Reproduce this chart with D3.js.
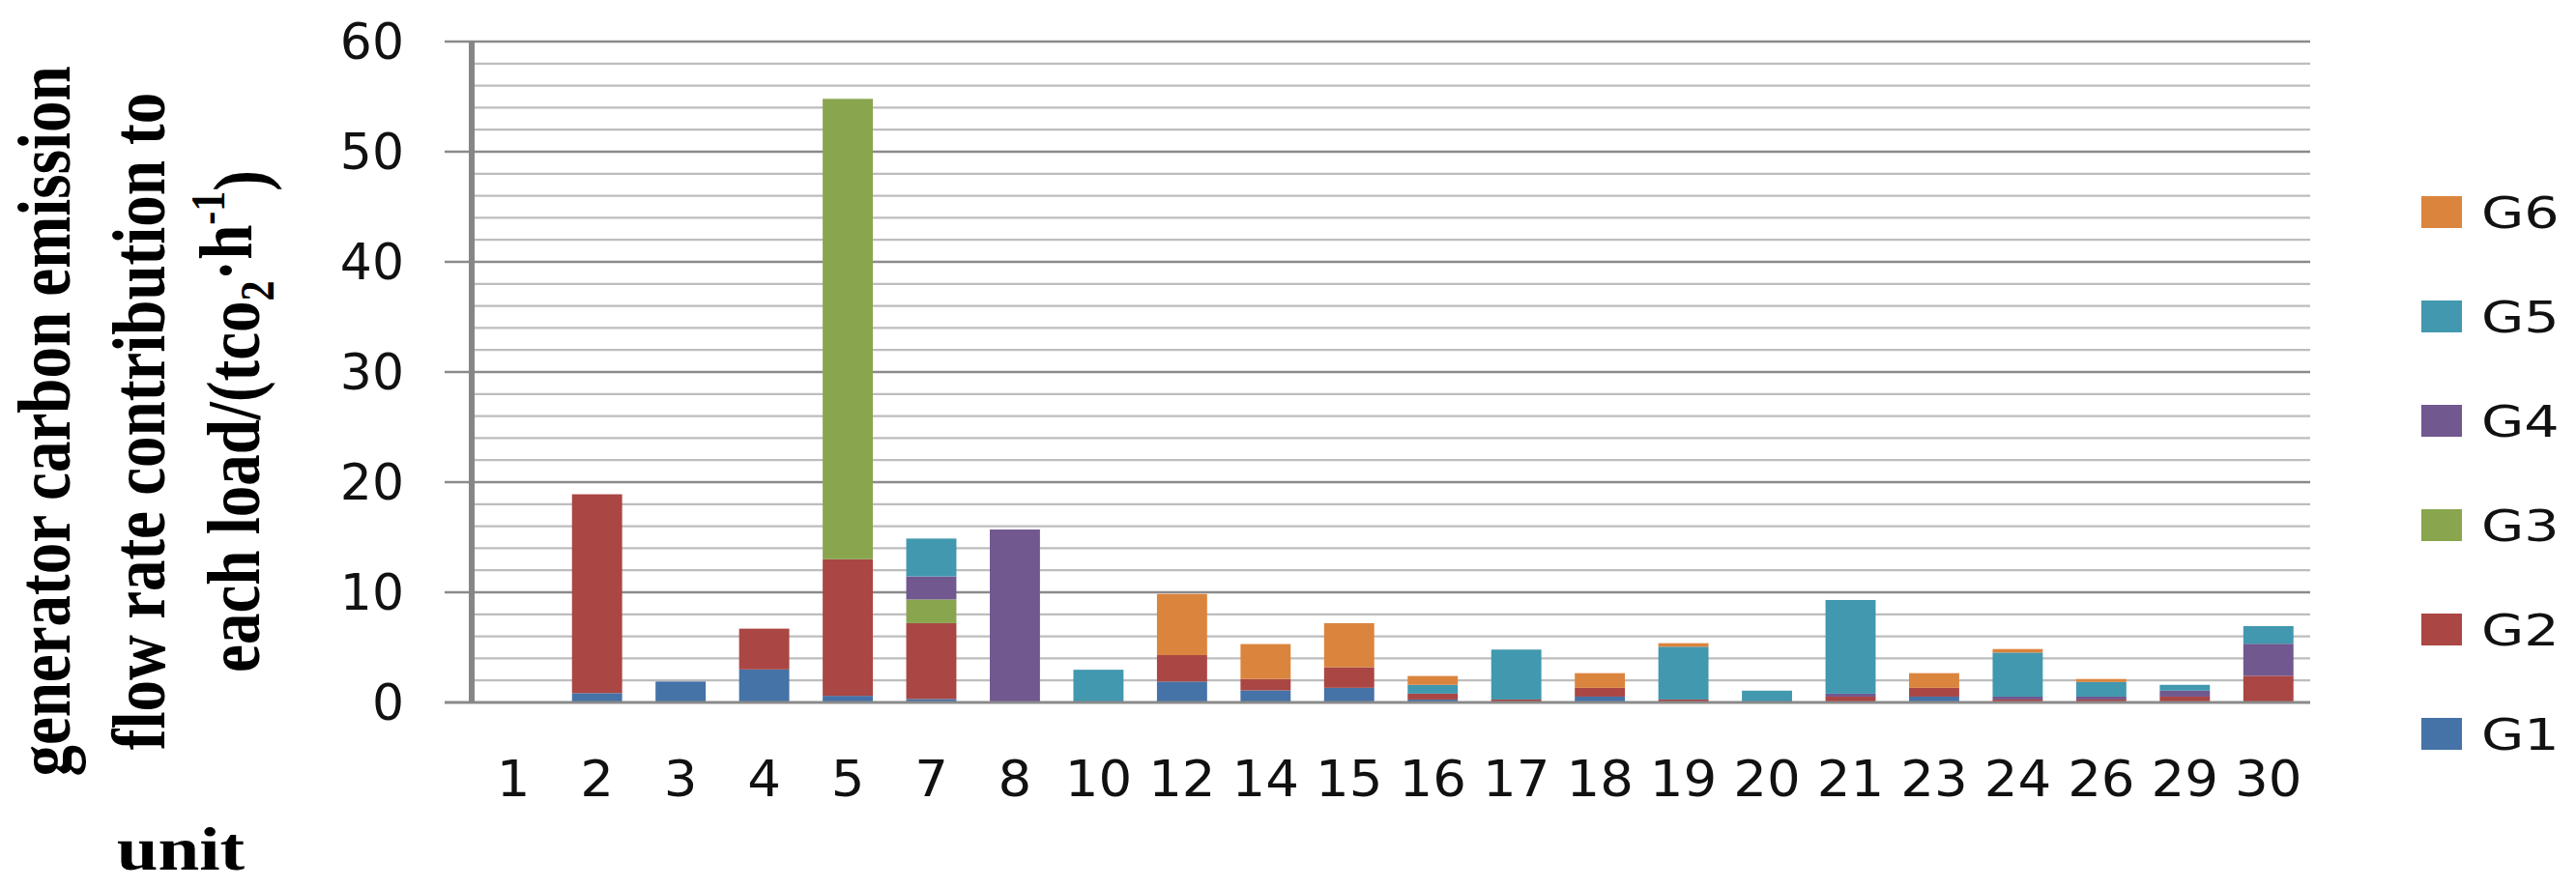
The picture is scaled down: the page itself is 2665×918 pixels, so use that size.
<!DOCTYPE html>
<html>
<head>
<meta charset="utf-8">
<script src="https://cdn.jsdelivr.net/npm/d3@7"></script>
<style>
  body { margin: 0; background: #fff; }
  svg { display: block; }
</style>
</head>
<body>
<svg id="chart" width="2665" height="918"></svg>
<script>
'use strict'

// load buses (x categories)
var units = ["1", "2", "3", "4", "5", "7", "8", "10", "12", "14", "15", "16", "17", "18", "19", "20", "21", "23", "24", "26", "29", "30"];

// contribution of each generator
var g1 = [0, 0.85, 1.9, 3.0, 0.6, 0.32, 0, 0, 1.9, 1.1, 1.33, 0.27, 0, 0.53, 0, 0, 0, 0.53, 0, 0, 0, 0];
var g2 = [0, 18.05, 0, 3.7, 12.4, 6.88, 0, 0, 2.4, 1.03, 1.87, 0.53, 0.27, 0.8, 0.27, 0, 0.53, 0.8, 0.27, 0.27, 0.53, 2.42];
var g3 = [0, 0, 0, 0, 41.8, 2.15, 0, 0, 0, 0, 0, 0, 0, 0, 0, 0, 0, 0, 0, 0, 0, 0];
var g4 = [0, 0, 0, 0, 0, 2.09, 15.7, 0, 0, 0, 0, 0, 0, 0, 0, 0, 0.27, 0, 0.26, 0.26, 0.54, 2.91];
var g5 = [0, 0, 0, 0, 0, 3.44, 0, 2.97, 0, 0, 0, 0.8, 4.53, 0, 4.79, 1.07, 8.5, 0, 4.0, 1.33, 0.53, 1.6];
var g6 = [0, 0, 0, 0, 0, 0, 0, 0, 5.55, 3.17, 4.0, 0.8, 0, 1.33, 0.32, 0, 0, 1.33, 0.32, 0.27, 0, 0];

var seriesNames = ["G1", "G2", "G3", "G4", "G5", "G6"];
var seriesValues = [g1, g2, g3, g4, g5, g6];
var colours = ["#4572a7", "#aa4643", "#89a54e", "#71588f", "#4198af", "#db843d"];

var yTicks = [0, 10, 20, 30, 40, 50, 60];

var svg = d3.select("#chart"),
  margin = {
    top: 43,
    right: 275,
    bottom: 191,
    left: 488
  },
  width = +svg.attr("width") - margin.left - margin.right,
  height = +svg.attr("height") - margin.top - margin.bottom;

var x = d3.scaleBand()
  .domain(units)
  .range([0, width])
  .paddingInner(0.4)
  .paddingOuter(0.2);

var y = d3.scaleLinear()
  .domain([0, 60])
  .range([height, 0]);

// build rows for d3.stack
var rows = units.map(function(u, i) {
  var r = { unit: u };
  seriesNames.forEach(function(s, j) {
    r[s] = seriesValues[j][i];
  });
  return r;
});

var stacked = d3.stack().keys(seriesNames)(rows);

var g = svg.append("g")
  .attr("transform", "translate(" + margin.left + "," + margin.top + ")");

// gridlines: minor every 2, major every 10
var minor = d3.range(2, 60, 2).filter(function(v) { return v % 10 !== 0; });

g.append("g")
  .selectAll("line")
  .data(minor)
  .enter()
  .append("line")
  .attr("x1", 0)
  .attr("x2", width)
  .attr("y1", function(d) { return y(d); })
  .attr("y2", function(d) { return y(d); })
  .attr("stroke", "#bdbdbd")
  .attr("stroke-width", 2.2);

g.append("g")
  .selectAll("line")
  .data(yTicks.slice(1))
  .enter()
  .append("line")
  .attr("x1", -28)
  .attr("x2", width)
  .attr("y1", function(d) { return y(d); })
  .attr("y2", function(d) { return y(d); })
  .attr("stroke", "#8a8a8a")
  .attr("stroke-width", 2.4);

// bars
g.append("g")
  .selectAll("g")
  .data(stacked)
  .enter()
  .append("g")
  .attr("fill", function(d, i) { return colours[i]; })
  .selectAll("rect")
  .data(function(d) { return d; })
  .enter()
  .append("rect")
  .attr("x", function(d) { return x(d.data.unit); })
  .attr("width", x.bandwidth())
  .attr("y", function(d) { return y(d[1]); })
  .attr("height", function(d) { return y(d[0]) - y(d[1]); });

// x axis line
g.append("line")
  .attr("x1", -28)
  .attr("x2", width)
  .attr("y1", height)
  .attr("y2", height)
  .attr("stroke", "#8a8a8a")
  .attr("stroke-width", 3);

// y axis line
g.append("line")
  .attr("x1", 0)
  .attr("x2", 0)
  .attr("y1", 0)
  .attr("y2", height)
  .attr("stroke", "#868686")
  .attr("stroke-width", 6);

// y tick labels
g.append("g")
  .selectAll("text")
  .data(yTicks)
  .enter()
  .append("text")
  .attr("transform", function(d) {
    return "translate(-70," + (y(d) + 18) + ")";
  })
  .attr("text-anchor", "end")
  .style("font-family", "'DejaVu Sans', sans-serif")
  .style("font-size", "52px")
  .attr("fill", "#111")
  .text(function(d) { return d; });

// x tick labels
g.append("g")
  .selectAll("text")
  .data(units)
  .enter()
  .append("text")
  .attr("transform", function(d) {
    return "translate(" + (x(d) + x.bandwidth() / 2) + "," + (height + 97) + ") scale(1.05,1)";
  })
  .attr("text-anchor", "middle")
  .style("font-family", "'DejaVu Sans', sans-serif")
  .style("font-size", "52px")
  .attr("fill", "#111")
  .text(function(d) { return d; });

// y axis title, three rotated lines
var titleLines = ["generator carbon emission", "flow rate contribution to"];
var titleX = [72, 170, 268];
var titleY = 436;

titleLines.forEach(function(t, i) {
  svg.append("text")
    .attr("transform", "translate(" + titleX[i] + "," + titleY + ") rotate(-90) scale(1,1.2)")
    .attr("text-anchor", "middle")
    .style("font-family", "'Liberation Serif', 'Times New Roman', serif")
    .style("font-weight", "bold")
    .style("font-size", "65px")
    .attr("fill", "#000")
    .text(t);
});

var last = svg.append("text")
  .attr("transform", "translate(" + titleX[2] + "," + titleY + ") rotate(-90) scale(1,1.2)")
  .attr("text-anchor", "middle")
  .style("font-family", "'Liberation Serif', 'Times New Roman', serif")
  .style("font-weight", "bold")
  .style("font-size", "65px")
  .attr("fill", "#000");
last.append("tspan").text("each load/(tco");
last.append("tspan").attr("dy", "0.3em").style("font-size", "42px").text("2");
last.append("tspan").attr("dy", "-0.3em").text("\u00b7h");
last.append("tspan").attr("dy", "-0.55em").style("font-size", "42px").text("-1");
last.append("tspan").attr("dy", "0.55em").text(")");

// x axis title
svg.append("text")
  .attr("transform", "translate(187,900) scale(1.2,1)")
  .attr("text-anchor", "middle")
  .style("font-family", "'Liberation Serif', 'Times New Roman', serif")
  .style("font-weight", "bold")
  .style("font-size", "64px")
  .attr("fill", "#000")
  .text("unit");

// legend, G6 on top
var legendY = d3.scalePoint()
  .domain(seriesNames.slice().reverse())
  .range([220, 760]);

var items = svg.append("g")
  .selectAll("g")
  .data(seriesNames)
  .enter()
  .append("g")
  .attr("transform", function(d) { return "translate(2505," + legendY(d) + ")"; });

items.append("rect")
  .attr("x", 0)
  .attr("y", -17)
  .attr("width", 42)
  .attr("height", 33)
  .attr("fill", function(d, i) { return colours[i]; });

items.append("text")
  .attr("transform", "translate(62,16) scale(1.3,1)")
  .style("font-family", "'DejaVu Sans', sans-serif")
  .style("font-size", "44px")
  .attr("fill", "#111")
  .text(function(d) { return d; });
</script>
</body>
</html>
